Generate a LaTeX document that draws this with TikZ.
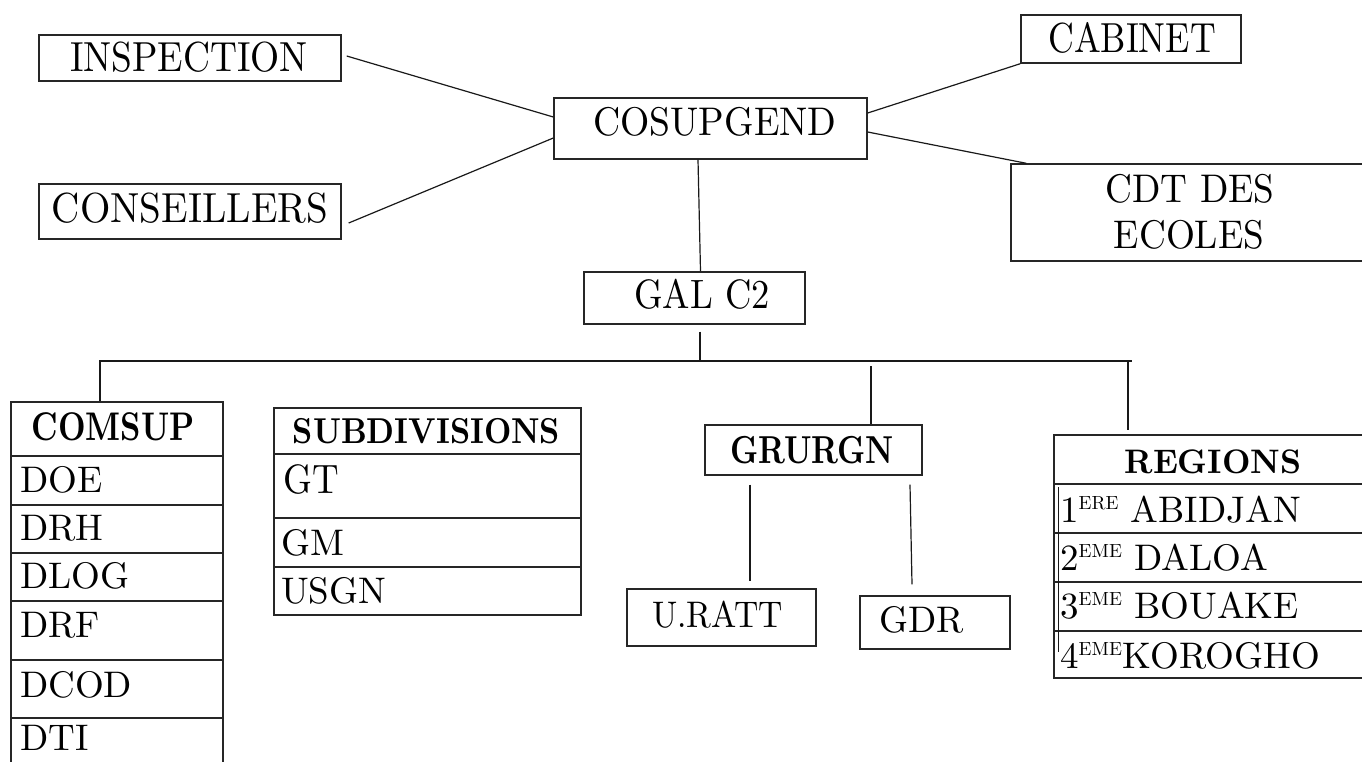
\documentclass[tikz,border=0pt]{standalone}
\usepackage{graphicx}
\usepackage{fontspec}
\setmainfont{lmroman10-regular.otf}[BoldFont=lmroman10-bold.otf]
\usetikzlibrary{calc}
\newcommand{\sqz}[2]{\scalebox{#1}[1]{#2}}
\newcommand{\sups}[1]{\raisebox{13pt}{\fontsize{19}{19}\selectfont #1}}
\tikzset{
  boxst/.style={draw=black!85, line width=1.4pt, inner sep=0pt},
  conn/.style={draw=black!90, line width=1.2pt},
  txt/.style={inner sep=0pt, font=\fontsize{37}{40}\selectfont},
  bigtxt/.style={inner sep=0pt, font=\fontsize{#1}{#1}\selectfont},
  hdr/.style={inner sep=0pt, font=\bfseries\fontsize{#1}{#1}\selectfont},
}
\begin{document}
\begin{tikzpicture}[x=1pt,y=-1pt]
\useasboundingbox (0,0) rectangle (1362,761);
\clip (0,0) rectangle (1362,761);
\fill[white] (0,0) rectangle (1362,761);

% ---- top level boxes
\node[boxst, minimum width=302pt, minimum height=46pt] (insp) at (190,58) {};
\node[bigtxt=42, anchor=base] (tinsp) at (189,71) {\sqz{0.89}{INSPECTION}};
\node[boxst, minimum width=302pt, minimum height=55pt] (cons) at (190,211.5) {};
\node[bigtxt=42, anchor=base] (tcons) at (190,222) {\sqz{0.93}{CONSEILLERS}};
\node[boxst, minimum width=313pt, minimum height=61pt] (cosup) at (710.5,128.5) {};
\node[bigtxt=40, anchor=base] (tcosup) at (715,135) {\sqz{0.94}{COSUPGEND}};
\node[boxst, minimum width=220pt, minimum height=48pt] (cab) at (1131,39) {};
\node[bigtxt=42, anchor=base] (tcab) at (1132,52) {\sqz{0.85}{CABINET}};
\node[boxst, minimum width=369pt, minimum height=97pt] (cdt) at (1195.5,212.5) {};
\node[bigtxt=40, anchor=base] (tcdt1) at (1190,202) {\sqz{0.93}{CDT DES}};
\node[bigtxt=40, anchor=base] (tcdt2) at (1189,248) {\sqz{0.93}{ECOLES}};
\node[boxst, minimum width=221pt, minimum height=52pt] (gal) at (694.5,298) {};
\node[bigtxt=41, anchor=base] (tgal) at (702,308) {\sqz{0.89}{GAL C2}};

% ---- connectors top
\draw[conn] ($(insp.east)+(5,-2)$) -- ($(cosup.west)+(0,-11.5)$);
\draw[conn] ($(cons.east)+(7,11.5)$) -- ($(cosup.west)+(0,9.5)$);
\draw[conn] ($(cosup.east)+(0,-15.5)$) -- (cab.south west);
\draw[conn] ($(cosup.east)+(0,3.5)$) -- ($(cdt.north west)+(16,0)$);
\draw[conn] ($(cosup.south)+(-12.5,0)$) -- ($(gal.north)+(6,0)$);

% ---- bus
\coordinate (busL) at (99,361);
\coordinate (busR) at (1132,361);
\coordinate (busM) at (700,361);
\coordinate (dropC) at (100,361);
\coordinate (dropG) at (871,366);
\coordinate (dropR) at (1128,361);
\draw[conn] (busL) -- (busR);
\draw[conn] ($(gal.south)+(5.5,7)$) -- (busM);

% ---- COMSUP column
\node[boxst, minimum width=212pt, minimum height=54pt] (comh) at (117,429) {};
\node[hdr=40, anchor=base] (tcomh) at (113,440) {\sqz{0.8}{COMSUP}};
\node[boxst, minimum width=212pt, minimum height=49pt] (c1) at (117,480.5) {};
\node[boxst, minimum width=212pt, minimum height=48pt] (c2) at (117,529) {};
\node[boxst, minimum width=212pt, minimum height=48pt] (c3) at (117,577) {};
\node[boxst, minimum width=212pt, minimum height=59pt] (c4) at (117,630.5) {};
\node[boxst, minimum width=212pt, minimum height=58pt] (c5) at (117,689) {};
\node[boxst, minimum width=212pt, minimum height=57pt] (c6) at (117,746.5) {};
\node[txt, anchor=base west] (tc1) at (20,492) {DOE};
\node[txt, anchor=base west] (tc2) at (20,540) {DRH};
\node[txt, anchor=base west] (tc3) at (20,588) {DLOG};
\node[txt, anchor=base west] (tc4) at (20,637) {DRF};
\node[txt, anchor=base west] (tc5) at (20,697) {DCOD};
\node[txt, anchor=base west] (tc6) at (20,750) {DTI};
\draw[conn] (dropC) -- (dropC |- comh.north);

% ---- SUBDIVISIONS
\node[boxst, minimum width=307pt, minimum height=46pt] (subh) at (427.5,431) {};
\node[hdr=36, anchor=base] (tsubh) at (426.5,443) {\sqz{0.88}{SUBDIVISIONS}};
\node[boxst, minimum width=307pt, minimum height=64pt] (s1) at (427.5,486) {};
\node[boxst, minimum width=307pt, minimum height=49pt] (s2) at (427.5,542.5) {};
\node[boxst, minimum width=307pt, minimum height=48pt] (s3) at (427.5,591) {};
\node[bigtxt=41, anchor=base west] (ts1) at (283,493) {\sqz{0.9}{GT}};
\node[txt, anchor=base west] (ts2) at (281,555) {GM};
\node[txt, anchor=base west] (ts3) at (281,603) {USGN};

% ---- GRURGN
\node[boxst, minimum width=217pt, minimum height=50pt] (grur) at (813.5,450) {};
\node[hdr=39, anchor=base] (tgrur) at (812,463) {\sqz{0.8}{GRURGN}};
\node[boxst, minimum width=189pt, minimum height=57pt] (uratt) at (721.5,617.5) {};
\node[txt, anchor=base west] (turatt) at (652,627) {\sqz{0.91}{U.RATT}};
\node[boxst, minimum width=150pt, minimum height=53pt] (gdr) at (935,622.5) {};
\node[txt, anchor=base west] (tgdr) at (879,632) {GDR};
\draw[conn] (dropG) -- (dropG |- grur.north);
\draw[conn] ($(grur.south)+(-63.5,9)$) -- ($(uratt.north)+(28.5,-7)$);
\draw[conn] ($(grur.south)+(96.5,9)$) -- ($(gdr.north)+(-23,-11)$);

% ---- REGIONS
\node[boxst, minimum width=326pt, minimum height=49pt] (regh) at (1217,459.5) {};
\node[hdr=34, anchor=base] (tregh) at (1213,473) {\sqz{0.97}{REGIONS}};
\node[boxst, minimum width=326pt, minimum height=49pt] (r1) at (1217,508.5) {};
\node[boxst, minimum width=326pt, minimum height=49pt] (r2) at (1217,557.5) {};
\node[boxst, minimum width=326pt, minimum height=49pt] (r3) at (1217,606.5) {};
\node[boxst, minimum width=326pt, minimum height=47pt] (r4) at (1217,654.5) {};
\node[txt, anchor=base west] (tr1) at (1060,522) {1\sups{ERE} ABIDJAN};
\node[txt, anchor=base west] (tr2) at (1060,570) {2\sups{EME} DALOA};
\node[txt, anchor=base west] (tr3) at (1060,618) {3\sups{EME} BOUAKE};
\node[txt, anchor=base west] (tr4) at (1060,668) {4\sups{EME}KOROGHO};
\draw[conn] ($(r1.north west)+(5,4)$) -- ($(r4.west)+(5,-2.5)$);
\draw[conn] (dropR) -- ($(dropR |- regh.north)+(0,-4)$);
\end{tikzpicture}
\end{document}
